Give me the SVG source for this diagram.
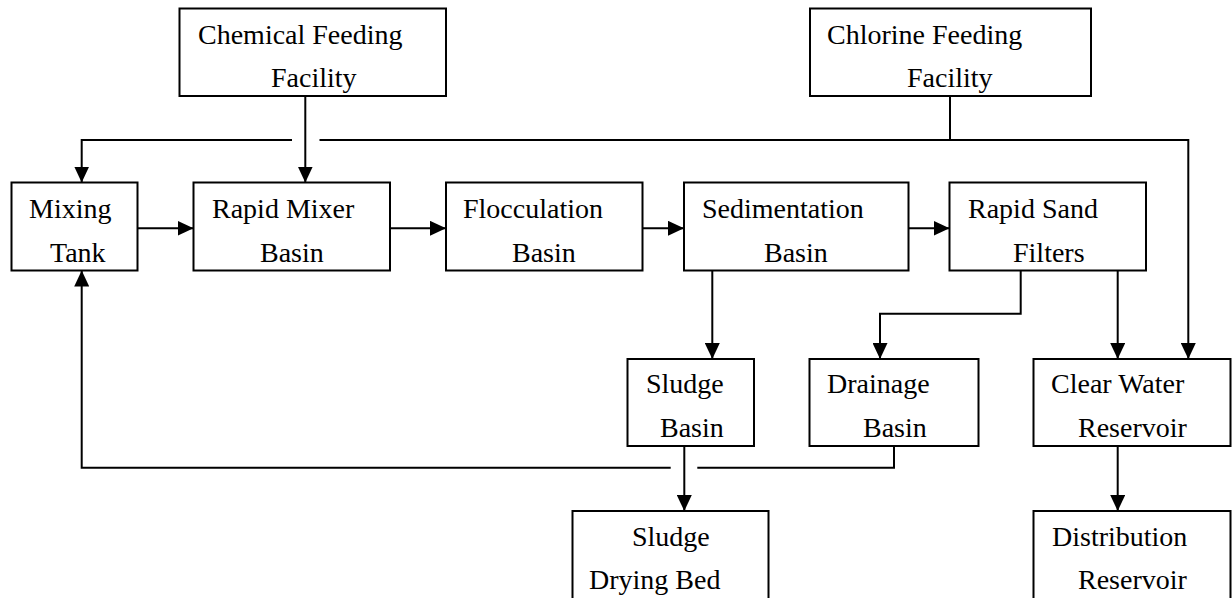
<svg xmlns="http://www.w3.org/2000/svg" width="1232" height="598" viewBox="0 0 1232 598">
<style>
.box{fill:#fff;stroke:#000;stroke-width:2}
.t{font-family:"Liberation Serif","Times New Roman",serif;font-size:28px;fill:#000}
.c{fill:none;stroke:#000;stroke-width:2}
.a{marker-end:url(#ah)}
</style>
<defs>
<marker id="ah" markerUnits="userSpaceOnUse" markerWidth="16" markerHeight="15" refX="16" refY="7.5" orient="auto">
<path d="M0,0 L16,7.5 L0,15 z" fill="#000"/>
</marker>
</defs>
<rect width="1232" height="598" fill="#fff"/>
<g id="connectors">
<path class="c a" d="M305.3,96 V182.5"/>
<path class="c" d="M950,96 V140 H319.5"/>
<path class="c a" d="M292,140 H81.7 V182.5"/>
<path class="c a" d="M950,140 H1188.3 V359"/>
<path class="c a" d="M137.5,228.3 H193.5"/>
<path class="c a" d="M390,228.3 H446"/>
<path class="c a" d="M642.5,228.3 H684"/>
<path class="c a" d="M908.5,228.3 H949.5"/>
<path class="c a" d="M712.3,270.5 V359"/>
<path class="c a" d="M1020.7,270.5 V313.7 H880 V359"/>
<path class="c a" d="M1117.7,270.5 V359"/>
<path class="c" d="M894,446 V467.7 H697.3"/>
<path class="c a" d="M670.7,467.7 H81.7 V270.5"/>
<path class="c a" d="M684.3,446 V511"/>
<path class="c a" d="M1117.7,446 V511"/>
</g>
<g id="chemical">
<rect class="box" x="179.5" y="8.5" width="266.5" height="87.5"/>
<text class="t" x="198" y="44">Chemical Feeding</text>
<text class="t" x="271" y="87">Facility</text>
</g>
<g id="chlorine">
<rect class="box" x="810" y="8.5" width="281" height="87.5"/>
<text class="t" x="827" y="44">Chlorine Feeding</text>
<text class="t" x="907" y="87">Facility</text>
</g>
<g id="mixing">
<rect class="box" x="11.5" y="182.5" width="126" height="88"/>
<text class="t" x="29" y="218">Mixing</text>
<text class="t" x="50" y="262">Tank</text>
</g>
<g id="rapidmixer">
<rect class="box" x="193.5" y="182.5" width="196.5" height="88"/>
<text class="t" x="212" y="218">Rapid Mixer</text>
<text class="t" x="260" y="262">Basin</text>
</g>
<g id="flocculation">
<rect class="box" x="446" y="182.5" width="196.5" height="88"/>
<text class="t" x="463" y="218">Flocculation</text>
<text class="t" x="512" y="262">Basin</text>
</g>
<g id="sedimentation">
<rect class="box" x="684" y="182.5" width="224.5" height="88"/>
<text class="t" x="702" y="218">Sedimentation</text>
<text class="t" x="764" y="262">Basin</text>
</g>
<g id="sandfilters">
<rect class="box" x="949.5" y="182.5" width="196.5" height="88"/>
<text class="t" x="968" y="218">Rapid Sand</text>
<text class="t" x="1013" y="262">Filters</text>
</g>
<g id="sludge">
<rect class="box" x="627.5" y="359" width="126.5" height="87"/>
<text class="t" x="646" y="393">Sludge</text>
<text class="t" x="660" y="437">Basin</text>
</g>
<g id="drainage">
<rect class="box" x="809.5" y="359" width="169" height="87"/>
<text class="t" x="827" y="393">Drainage</text>
<text class="t" x="863" y="437">Basin</text>
</g>
<g id="clearwater">
<rect class="box" x="1033.5" y="359" width="197" height="87"/>
<text class="t" x="1051" y="393">Clear Water</text>
<text class="t" x="1078" y="437">Reservoir</text>
</g>
<g id="dryingbed">
<rect class="box" x="572.5" y="511" width="196" height="100"/>
<text class="t" x="632" y="546">Sludge</text>
<text class="t" x="589" y="589">Drying Bed</text>
</g>
<g id="distribution">
<rect class="box" x="1033.5" y="511" width="197" height="100"/>
<text class="t" x="1052" y="546">Distribution</text>
<text class="t" x="1078" y="589">Reservoir</text>
</g>
</svg>
